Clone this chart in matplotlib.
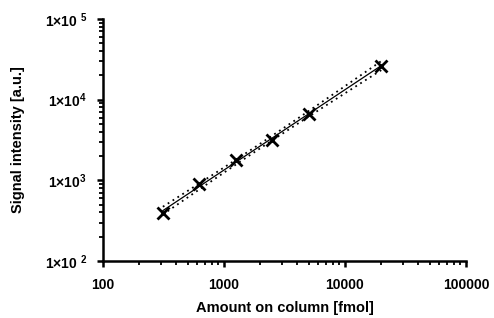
import numpy as np
import matplotlib
matplotlib.use("Agg")
import matplotlib.pyplot as plt
from matplotlib.ticker import FixedLocator, FixedFormatter, LogLocator, NullFormatter

plt.rcParams['font.family'] = ['Liberation Sans', 'DejaVu Sans']
plt.rcParams['mathtext.fontset'] = 'custom'
plt.rcParams['mathtext.rm'] = 'Liberation Sans:bold'
plt.rcParams['mathtext.bf'] = 'Liberation Sans:bold'

amount = [312.5, 625, 1250, 2500, 5000, 20000]
signal = [395, 893, 1770, 3180, 6710, 26300]

x_ticks = [100, 1000, 10000, 100000]
x_labels = ['100', '1000', '10000', '100000']
y_ticks = [1e2, 1e3, 1e4, 1e5]
y_labels = ['1×10 $^{2}$', '1×10$^{3}$', '1×10$^{4}$', '1×10 $^{5}$']

fig = plt.figure(figsize=(4.94, 3.18), dpi=100)
ax = fig.add_axes([0.2085, 0.1792, 0.7348, 0.7611])

# linear fit in log-log space with 95% confidence band
lx = np.log10(amount)
ly = np.log10(signal)
n = len(lx)
slope, icpt = np.polyfit(lx, ly, 1)
xs = np.linspace(lx.min(), lx.max(), 100)
fit = icpt + slope * xs
resid = ly - (icpt + slope * lx)
s = np.sqrt(np.sum(resid ** 2) / (n - 2))
se = s * np.sqrt(1.0 / n + (xs - lx.mean()) ** 2 / np.sum((lx - lx.mean()) ** 2))
t = 2.776
ax.plot(10 ** xs, 10 ** fit, color='black', lw=0.9)
ax.plot(10 ** xs, 10 ** (fit + t * se), color='black', lw=1.3, ls=(0, (1, 2.2)))
ax.plot(10 ** xs, 10 ** (fit - t * se), color='black', lw=1.3, ls=(0, (1, 2.2)))

ax.plot(amount, signal, 'x', color='black', ms=9, mew=2)

ax.set_xscale('log')
ax.set_yscale('log')
ax.set_xlim(100, 100000)
ax.set_ylim(100, 100000)

ax.xaxis.set_major_locator(FixedLocator(x_ticks))
ax.xaxis.set_major_formatter(FixedFormatter(x_labels))
ax.yaxis.set_major_locator(FixedLocator(y_ticks))
ax.yaxis.set_major_formatter(FixedFormatter(y_labels))
ax.xaxis.set_minor_locator(LogLocator(base=10, subs=range(2, 10)))
ax.yaxis.set_minor_locator(LogLocator(base=10, subs=range(2, 10)))
ax.xaxis.set_minor_formatter(NullFormatter())
ax.yaxis.set_minor_formatter(NullFormatter())

for sp in ['top', 'right']:
    ax.spines[sp].set_visible(False)
for sp in ['left', 'bottom']:
    ax.spines[sp].set_linewidth(1.8)

ax.tick_params(which='major', length=4.5, width=1.8, labelsize=10)
ax.tick_params(which='minor', length=3, width=1.3)
ax.tick_params(axis='x', which='major', pad=8)
ax.tick_params(axis='y', which='major', pad=7)
for lab in ax.get_xticklabels() + ax.get_yticklabels():
    lab.set_fontweight('bold')

ax.set_xlabel('Amount on column [fmol]', fontsize=10.5, fontweight='bold')
ax.set_ylabel('Signal intensity [a.u.]', fontsize=10.5, fontweight='bold')
ax.xaxis.set_label_coords(0.5, -0.165)
ax.yaxis.set_label_coords(-0.215, 0.5)

fig.savefig('out.png', dpi=100)
